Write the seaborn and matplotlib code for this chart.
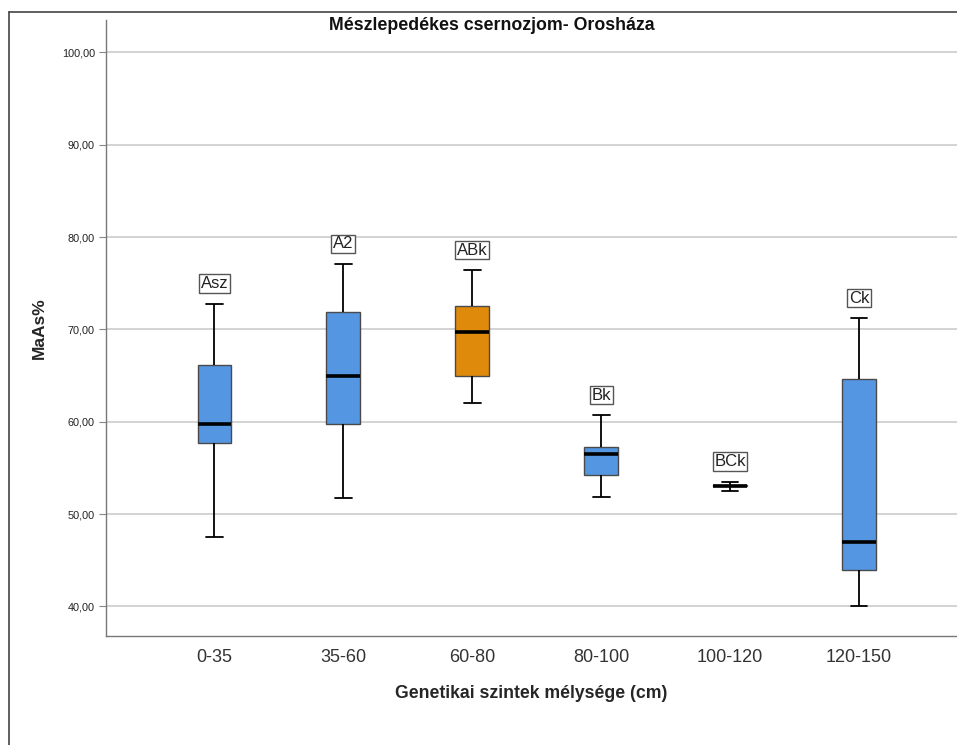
import matplotlib
matplotlib.use("Agg")
import matplotlib.pyplot as plt
import seaborn as sns
import pandas as pd
from matplotlib.lines import Line2D

# ---- data (five-number summaries) ----
depths = ["0-35", "35-60", "60-80", "80-100", "100-120", "120-150"]
horizons = ["Asz", "A2", "ABk", "Bk", "BCk", "Ck"]
mins = [47.5, 51.7, 62.0, 51.8, 52.5, 40.0]
q1s = [57.7, 59.8, 64.9, 54.25, 53.0, 44.0]
medians = [59.8, 64.9, 69.7, 56.5, 53.07, 47.0]
q3s = [66.1, 71.9, 72.5, 57.25, 53.15, 64.6]
maxs = [72.8, 77.1, 76.4, 60.7, 53.5, 71.2]
box_colors = ["#5596E3", "#5596E3", "#E08A0C", "#5596E3", "#5596E3", "#5596E3"]
y_ticks = [40, 50, 60, 70, 80, 90, 100]

rows = []
for d, a, b, c, e, f in zip(depths, mins, q1s, medians, q3s, maxs):
    for v in (a, b, c, e, f):
        rows.append({"depth": d, "MaAs": v})
df = pd.DataFrame(rows)

sns.set_theme(style="white")
plt.rcParams["font.family"] = ["Liberation Sans", "DejaVu Sans"]

fig = plt.figure(figsize=(9.57, 7.45), dpi=100)
ax = fig.add_axes([106 / 957, 1 - 636 / 745, 1 - 106 / 957, (636 - 20) / 745])

sns.boxplot(
    data=df, x="depth", y="MaAs", hue="depth", order=depths, hue_order=depths,
    palette=box_colors, legend=False, whis=(0, 100), width=0.26, ax=ax,
    linewidth=1.0, saturation=1,
    boxprops=dict(edgecolor="#4a4a4a"),
    whiskerprops=dict(color="black", linewidth=1.3),
    capprops=dict(color="black", linewidth=1.3),
    medianprops=dict(color="black", linewidth=2.6, zorder=6),
    showfliers=False,
)

ax.set_xlim(-0.84, 5.76)
ax.set_ylim(36.8, 103.5)
ax.set_yticks(y_ticks)
ax.set_yticklabels([f"{t:.2f}".replace(".", ",") for t in y_ticks], fontsize=7.8, color="#222222")
ax.tick_params(axis="x", labelsize=13, labelcolor="#333333", length=0, pad=9)
ax.tick_params(axis="y", length=5, width=0.8, color="#888888", left=True, pad=3)
ax.yaxis.grid(True, color="#c8c8c8", linewidth=1.1, zorder=0)
ax.set_axisbelow(True)

for s in ["top", "right"]:
    ax.spines[s].set_visible(False)
for s in ["left", "bottom"]:
    ax.spines[s].set_color("#777777")
    ax.spines[s].set_linewidth(1.0)

ax.set_xlabel("Genetikai szintek mélysége (cm)", fontsize=12.7, fontweight="bold", labelpad=14)
ax.set_ylabel("MaAs%", fontsize=12.5, fontweight="bold")
ax.yaxis.set_label_coords((47 - 106) / 851, 0.5)
fig.text(492 / 957, 1 - 25 / 745, "Mészlepedékes csernozjom- Orosháza",
         fontsize=12.8, fontweight="bold", ha="center", va="center", color="#111111")

for i, (h, top) in enumerate(zip(horizons, maxs)):
    ax.annotate(h, xy=(i, top), xytext=(0, 14.5), textcoords="offset points",
                ha="center", va="center", fontsize=12, color="#222222",
                bbox=dict(boxstyle="square,pad=0.1", fc="white", ec="#555555", lw=1.0),
                zorder=7)

# figure frame (left and top lines)
fig.add_artist(Line2D([9 / 957, 9 / 957], [0, 1 - 12 / 745], color="#444444", lw=1.2))
fig.add_artist(Line2D([9 / 957, 1], [1 - 12 / 745, 1 - 12 / 745], color="#444444", lw=1.2))

fig.savefig("out.png", dpi=100)
